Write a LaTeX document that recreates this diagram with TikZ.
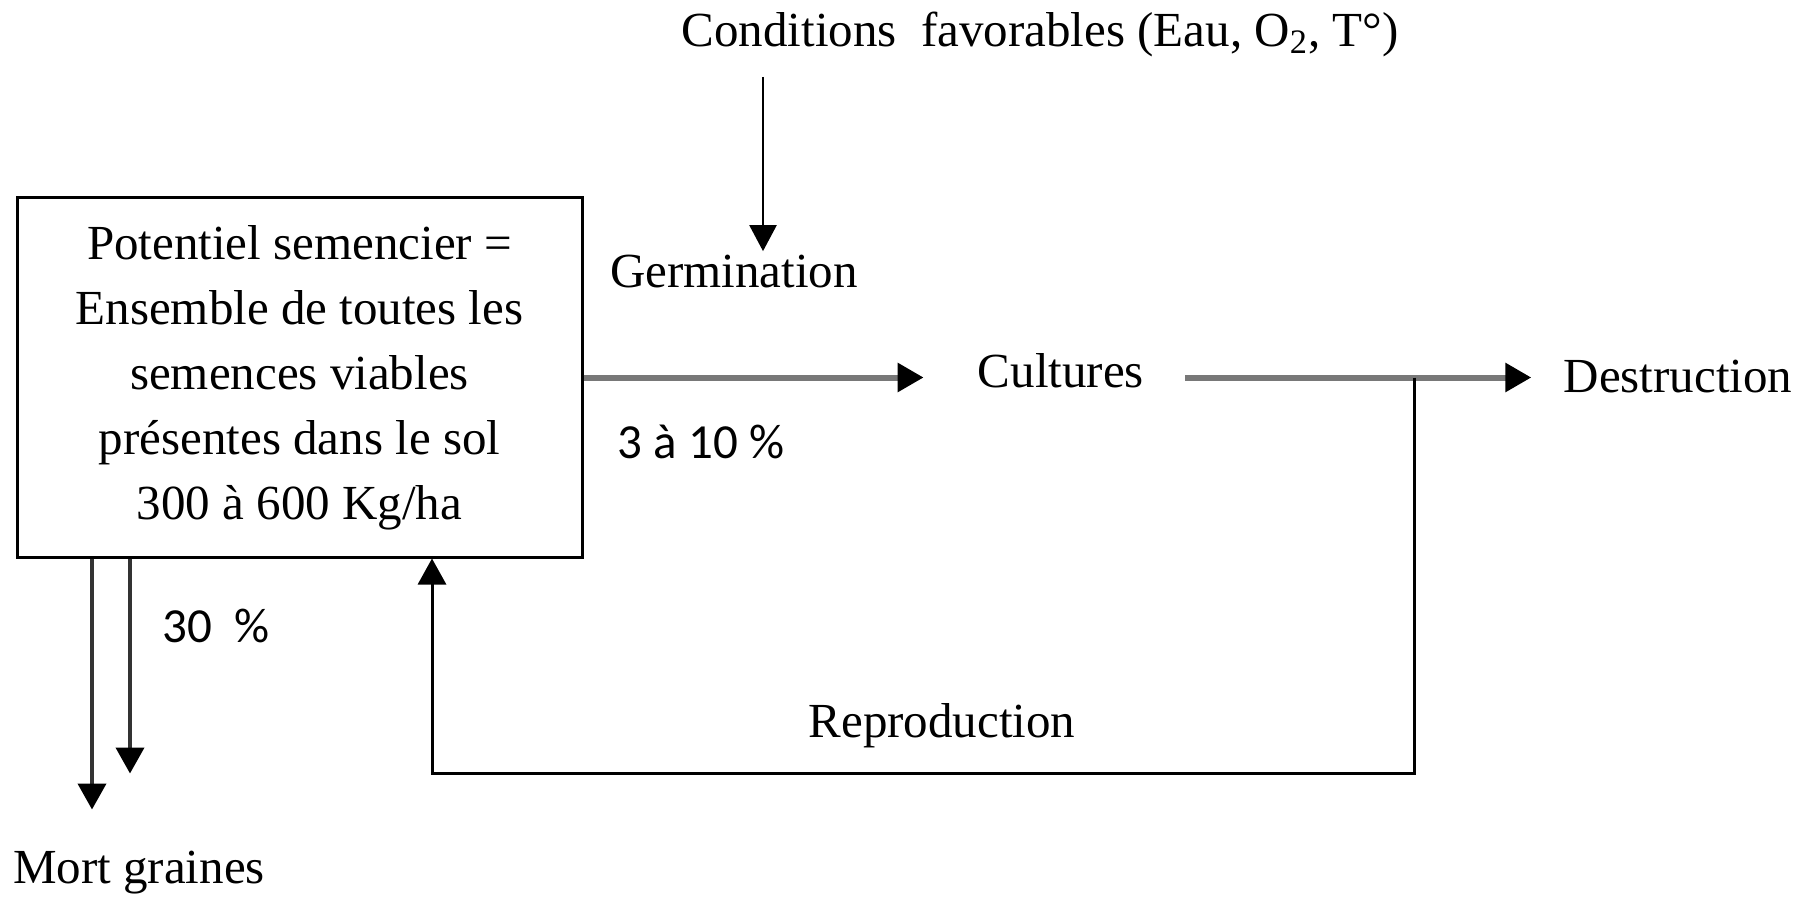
\documentclass[tikz,border=0pt]{standalone}
\usepackage{fontspec}
\setmainfont{Liberation Serif}
\newfontfamily\calibrifont{Carlito}
\usetikzlibrary{arrows.meta,positioning,calc}

\begin{document}
\begin{tikzpicture}[
  x=0.5pt, y=-0.5pt,
  every node/.style={font=\fontsize{24.5}{32.5}\selectfont, inner sep=0pt},
  box/.style={rectangle, draw=black, line width=1.5pt, align=center, minimum width=282.5pt, minimum height=179.5pt},
  pct/.style={font=\fontsize{24.5}{32.5}\selectfont\calibrifont},
  arrow/.style={-{Triangle[length=13pt, width=13.5pt]}, line width=1.2pt},
  grayarrow/.style={-{Triangle[length=13pt, width=14pt, black]}, draw=black!53, line width=3pt},
  looparrow/.style={-{Triangle[length=13pt, width=14pt, black]}, line width=1.5pt},
  deadarrow/.style={-{Triangle[length=13pt, width=14pt, black]}, draw=black!80, line width=2pt}
]
\useasboundingbox (0,0) rectangle (1802,898);

\node[box] (potentiel) at (299.5,377.5) {Potentiel semencier =\\Ensemble de toutes les\\semences viables\\présentes dans le sol\\300 à 600 Kg/ha};
\node (conditions) at (1040,34) {Conditions\ \ favorables (Eau, O\textsubscript{2}, T°)};
\node (germination) at (734,272) {Germination};
\node (cultures) at (1061,371) {Cultures};
\node (destruction) at (1678,377) {Destruction};
\node (reproduction) at (942,726) {Reproduction};
\node[pct] (taux) at (701,442) {3 à 10 \%};
\node[pct] (pertes) at (216,626) {30\ \ \%};
\node (mort) at (139,873) {Mort graines};

\coordinate (branch) at ($(cultures.east |- potentiel.east)+(270,0)$);
\coordinate (bas) at ($(branch)+(0,396)$);

\draw[arrow] ($(conditions.south -| germination.north)+(29,20)$) -- ($(germination.north)+(29,-4)$);
\draw[grayarrow] (potentiel.east) -- ($(potentiel.east -| cultures.west)+(-54,0)$);
\draw[grayarrow] ($(cultures.east |- potentiel.east)+(41,0)$) -- ($(destruction.west |- potentiel.east)+(-32,0)$);
\draw[looparrow] (branch) -- (bas) -| ($(potentiel.south)+(132.5,0)$);
\draw[deadarrow] ($(potentiel.south)+(-207.5,0)$) -- ++(0,251);
\draw[deadarrow] ($(potentiel.south)+(-169.5,0)$) -- ++(0,215);

\end{tikzpicture}
\end{document}
